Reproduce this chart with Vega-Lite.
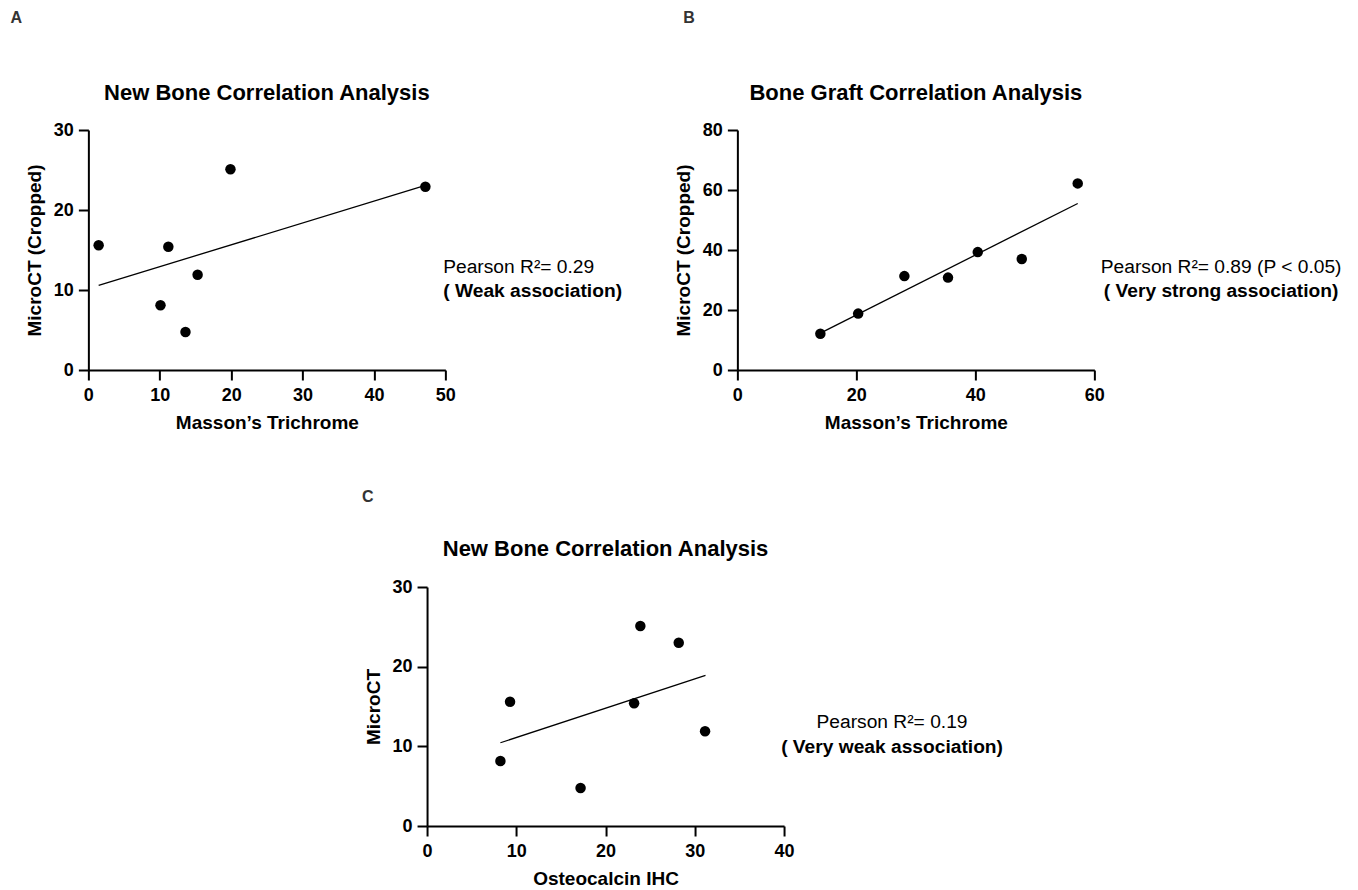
{
  "$schema": "https://vega.github.io/schema/vega-lite/v6.json",
  "background": "white",
  "padding": {"left": 10, "top": 10, "right": 5, "bottom": 5},
  "config": {
    "font": "Liberation Sans",
    "view": {"stroke": null},
    "axis": {
      "grid": false, "domainColor": "black", "domainWidth": 2, "tickColor": "black", "tickWidth": 2, "tickSize": 10,
      "labelFont": "Liberation Sans", "labelFontSize": 18, "labelFontWeight": "bold", "labelColor": "black", "labelFlush": false,
      "titleFont": "Liberation Sans", "titleFontSize": 19, "titleFontWeight": "bold", "titleColor": "black"
    },
    "axisX": {"labelPadding": 6, "titlePadding": 9},
    "axisY": {"labelPadding": 5, "titlePadding": 9}
  },
  "center": true,
  "spacing": 56,
  "vconcat": [
    {
      "spacing": 51,
      "hconcat": [
        {
          "width": 357, "height": 240,
          "encoding": {
            "x": {"field": "x", "type": "quantitative", "scale": {"domain": [0, 50], "nice": false, "zero": false}, "axis": {"values": [0, 10, 20, 30, 40, 50], "title": "Masson’s Trichrome"}},
            "y": {"field": "y", "type": "quantitative", "scale": {"domain": [0, 30], "nice": false, "zero": false}, "axis": {"values": [0, 10, 20, 30], "title": "MicroCT (Cropped)"}}
          },
          "layer": [
            {"data": {"values": [{"x": 1.44, "y": 15.6}, {"x": 10.1, "y": 8.1}, {"x": 11.2, "y": 15.4}, {"x": 13.6, "y": 4.75}, {"x": 15.3, "y": 11.9}, {"x": 19.9, "y": 25.1}, {"x": 47.2, "y": 22.9}]},
             "mark": {"type": "circle", "size": 110, "color": "black", "opacity": 1}},
            {"data": {"values": [{"x": 1.44, "y": 10.58}, {"x": 47.2, "y": 23.07}]},
             "mark": {"type": "line", "color": "black", "strokeWidth": 1.3}},
            {"data": {"values": [{"x": 49.7, "y": 12.9, "t": "Pearson R²= 0.29"}]},
             "mark": {"type": "text", "align": "left", "baseline": "middle", "fontSize": 19.2, "color": "black"},
             "encoding": {"text": {"field": "t"}}},
            {"data": {"values": [{"x": 49.7, "y": 9.9, "t": "( Weak association)"}]},
             "mark": {"type": "text", "align": "left", "baseline": "middle", "fontSize": 19.2, "fontWeight": "bold", "color": "black"},
             "encoding": {"text": {"field": "t"}}},
            {"data": {"values": [{"x": 25, "y": 34.6, "t": "New Bone Correlation Analysis"}]},
             "mark": {"type": "text", "align": "center", "baseline": "middle", "fontSize": 22, "fontWeight": "bold", "color": "black"},
             "encoding": {"text": {"field": "t"}}},
            {"data": {"values": [{"x": -10.9, "y": 44, "t": "A"}]},
             "mark": {"type": "text", "align": "left", "baseline": "middle", "fontSize": 16, "fontWeight": "bold", "color": "#333333"},
             "encoding": {"text": {"field": "t"}}}
          ]
        },
        {
          "width": 357, "height": 240,
          "encoding": {
            "x": {"field": "x", "type": "quantitative", "scale": {"domain": [0, 60], "nice": false, "zero": false}, "axis": {"values": [0, 20, 40, 60], "title": "Masson’s Trichrome"}},
            "y": {"field": "y", "type": "quantitative", "scale": {"domain": [0, 80], "nice": false, "zero": false}, "axis": {"values": [0, 20, 40, 60, 80], "title": "MicroCT (Cropped)"}}
          },
          "layer": [
            {"data": {"values": [{"x": 13.95, "y": 12.1}, {"x": 20.3, "y": 18.8}, {"x": 28.07, "y": 31.3}, {"x": 35.4, "y": 30.8}, {"x": 40.4, "y": 39.3}, {"x": 47.8, "y": 37.0}, {"x": 57.2, "y": 62.2}]},
             "mark": {"type": "circle", "size": 110, "color": "black", "opacity": 1}},
            {"data": {"values": [{"x": 13.95, "y": 12.3}, {"x": 57.2, "y": 55.5}]},
             "mark": {"type": "line", "color": "black", "strokeWidth": 1.3}},
            {"data": {"values": [{"x": 81.3, "y": 34.3, "t": "Pearson R²= 0.89 (P < 0.05)"}]},
             "mark": {"type": "text", "align": "center", "baseline": "middle", "fontSize": 19.2, "color": "black"},
             "encoding": {"text": {"field": "t"}}},
            {"data": {"values": [{"x": 81.3, "y": 26.3, "t": "( Very strong association)"}]},
             "mark": {"type": "text", "align": "center", "baseline": "middle", "fontSize": 19.2, "fontWeight": "bold", "color": "black"},
             "encoding": {"text": {"field": "t"}}},
            {"data": {"values": [{"x": 30, "y": 92.3, "t": "Bone Graft Correlation Analysis"}]},
             "mark": {"type": "text", "align": "center", "baseline": "middle", "fontSize": 22, "fontWeight": "bold", "color": "black"},
             "encoding": {"text": {"field": "t"}}},
            {"data": {"values": [{"x": -9.1, "y": 117.3, "t": "B"}]},
             "mark": {"type": "text", "align": "left", "baseline": "middle", "fontSize": 16, "fontWeight": "bold", "color": "#333333"},
             "encoding": {"text": {"field": "t"}}}
          ]
        }
      ]
    },
    {
      "width": 357, "height": 239,
      "encoding": {
        "x": {"field": "x", "type": "quantitative", "scale": {"domain": [0, 40], "nice": false, "zero": false}, "axis": {"values": [0, 10, 20, 30, 40], "title": "Osteocalcin IHC"}},
        "y": {"field": "y", "type": "quantitative", "scale": {"domain": [0, 30], "nice": false, "zero": false}, "axis": {"values": [0, 10, 20, 30], "title": "MicroCT"}}
      },
      "layer": [
        {"data": {"values": [{"x": 8.22, "y": 8.16}, {"x": 9.3, "y": 15.6}, {"x": 17.2, "y": 4.77}, {"x": 23.2, "y": 15.4}, {"x": 23.9, "y": 25.1}, {"x": 28.2, "y": 23.0}, {"x": 31.15, "y": 11.9}]},
         "mark": {"type": "circle", "size": 110, "color": "black", "opacity": 1}},
        {"data": {"values": [{"x": 8.22, "y": 10.45}, {"x": 31.2, "y": 18.9}]},
         "mark": {"type": "line", "color": "black", "strokeWidth": 1.3}},
        {"data": {"values": [{"x": 52.1, "y": 13.0, "t": "Pearson R²= 0.19"}]},
         "mark": {"type": "text", "align": "center", "baseline": "middle", "fontSize": 19.2, "color": "black"},
         "encoding": {"text": {"field": "t"}}},
        {"data": {"values": [{"x": 52.1, "y": 9.9, "t": "( Very weak association)"}]},
         "mark": {"type": "text", "align": "center", "baseline": "middle", "fontSize": 19.2, "fontWeight": "bold", "color": "black"},
         "encoding": {"text": {"field": "t"}}},
        {"data": {"values": [{"x": 20, "y": 34.8, "t": "New Bone Correlation Analysis"}]},
         "mark": {"type": "text", "align": "center", "baseline": "middle", "fontSize": 22, "fontWeight": "bold", "color": "black"},
         "encoding": {"text": {"field": "t"}}},
        {"data": {"values": [{"x": -7.3, "y": 41.3, "t": "C"}]},
         "mark": {"type": "text", "align": "left", "baseline": "middle", "fontSize": 16, "fontWeight": "bold", "color": "#333333"},
         "encoding": {"text": {"field": "t"}}}
      ]
    }
  ]
}
